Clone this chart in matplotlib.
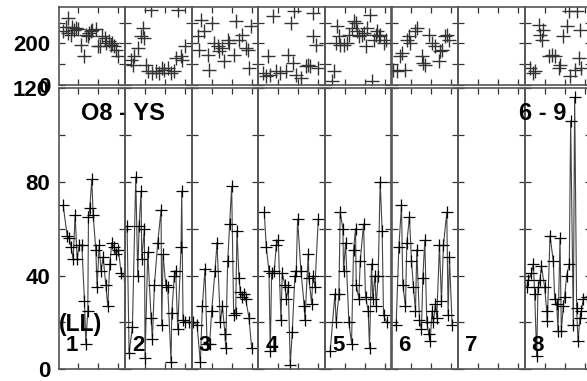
import matplotlib
matplotlib.use("Agg")
import matplotlib.pyplot as plt

plt.rcParams['font.family'] = ['Liberation Sans', 'DejaVu Sans']
plt.rcParams['font.weight'] = 'bold'

# panel labels
panel_labels = ['1', '2', '3', '4', '5', '6', '7', '8', '']

# lower series (line + markers), one list per panel
bottom_x = [
    [7, 13, 16, 19, 22, 25, 28, 31, 35, 39, 41, 44, 45, 47, 50, 52, 56, 58, 61, 64, 67, 71, 74, 77, 80, 84, 86, 90, 94, 98],
    [3, 6, 11, 16, 19, 21, 24, 25, 29, 30, 34, 39, 41, 44, 49, 54, 55, 57, 61, 64, 69, 70, 74, 76, 79, 84, 85, 87, 90, 96],
    [2, 8, 13, 16, 20, 23, 27, 30, 35, 38, 43, 46, 50, 51, 54, 57, 60, 63, 66, 68, 71, 73, 76, 78, 81, 86, 90],
    [9, 12, 16, 18, 20, 24, 27, 30, 34, 36, 40, 42, 45, 48, 51, 55, 57, 59, 64, 69, 70, 75, 76, 80, 82, 85, 90],
    [8, 15, 17, 21, 23, 27, 28, 31, 36, 40, 43, 46, 47, 51, 53, 58, 61, 65, 67, 70, 72, 75, 77, 80, 83, 86, 88, 93],
    [7, 11, 15, 17, 21, 23, 27, 30, 33, 36, 38, 42, 45, 47, 50, 53, 56, 58, 61, 63, 66, 68, 72, 75, 78, 83, 85, 87, 91],
    [],
    [3, 5, 10, 13, 15, 18, 20, 23, 25, 30, 33, 34, 38, 43, 45, 48, 50, 53, 55, 58, 60, 63, 67, 69, 73, 75, 78, 80, 83, 85, 88, 93],
    [],
]
bottom_y = [
    [70, 57, 56, 52, 47, 66, 47, 53, 53, 29, 11, 25, 65, 69, 81, 66, 51, 35, 53, 42, 48, 36, 27, 45, 54, 52, 49, 51, 41, 40],
    [61, 7, 18, 82, 40, 61, 76, 47, 60, 5, 50, 22, 13, 36, 54, 68, 19, 49, 36, 35, 3, 24, 40, 42, 17, 52, 76, 21, 20, 20],
    [20, 19, 3, 27, 43, 11, 11, 25, 42, 54, 20, 27, 15, 9, 46, 62, 78, 23, 24, 59, 39, 33, 31, 32, 30, 22, 9],
    [67, 52, 42, 8, 41, 42, 53, 55, 21, 41, 36, 30, 35, 2, 16, 40, 42, 64, 42, 27, 21, 49, 39, 28, 40, 35, 64],
    [8, 32, 20, 32, 67, 60, 42, 54, 20, 11, 51, 60, 36, 30, 46, 62, 31, 25, 9, 45, 30, 40, 27, 40, 80, 59, 23, 20],
    [19, 52, 70, 36, 27, 54, 65, 46, 35, 25, 51, 21, 17, 39, 55, 20, 15, 12, 25, 20, 28, 22, 53, 29, 53, 67, 23, 48, 19],
    [],
    [35, 38, 41, 45, 32, 5.5, 35, 38, 44, 35, 25, 20.5, 57, 46, 30, 28, 16.5, 56, 16.5, 27, 31, 40, 45, 106, 19, 116, 26, 12, 22, 25, 30, 31],
    [],
]

# upper series (markers only), one list per panel
top_x = [
    [7, 11, 14, 15, 19, 21, 24, 27, 30, 34, 39, 41, 44, 46, 49, 51, 56, 59, 62, 66, 70, 71, 76, 79, 81, 84, 86, 89],
    [9, 12, 14, 19, 24, 27, 29, 31, 35, 39, 41, 46, 51, 55, 59, 64, 69, 74, 76, 79, 84, 86, 90],
    [9, 11, 14, 19, 24, 26, 31, 34, 39, 41, 46, 49, 54, 56, 64, 66, 71, 76, 81, 85, 86, 89],
    [7, 12, 14, 17, 22, 27, 32, 42, 44, 49, 52, 54, 57, 64, 72, 74, 77, 82, 82, 87, 90],
    [11, 13, 16, 18, 21, 23, 28, 33, 36, 41, 43, 46, 48, 51, 55, 58, 61, 63, 68, 71, 73, 76, 78, 81, 83, 88, 91],
    [3, 8, 13, 16, 21, 23, 26, 28, 36, 38, 46, 48, 51, 56, 61, 66, 71, 73, 76, 81, 83, 86],
    [],
    [8, 13, 16, 21, 23, 26, 28, 36, 41, 46, 51, 53, 58, 63, 66, 68, 76, 78, 81, 83, 85],
    [],
]
top_y = [
    [257, 277, 321, 249, 241, 277, 265, 273, 268, 193, 137, 241, 233, 252, 257, 262, 268, 185, 185, 233, 225, 204, 209, 193, 201, 185, 169, 137],
    [121, 97, 137, 177, 233, 273, 225, 97, 65, 361, 57, 65, 57, 81, 73, 81, 57, 65, 129, 361, 137, 121, 185],
    [233, 169, 313, 257, 145, 73, 297, 201, 185, 161, 177, 113, 217, 201, 145, 305, 217, 241, 177, 169, 81, 281],
    [57, 41, 137, 49, 329, 65, 57, 65, 145, 297, 105, 353, 49, 33, 89, 97, 89, 345, 233, 193, 84],
    [17, 65, 201, 281, 233, 193, 193, 201, 241, 273, 305, 297, 257, 233, 241, 249, 185, 273, 337, 17, 217, 241, 257, 233, 241, 201, 217],
    [73, 65, 137, 153, 73, 217, 233, 201, 257, 273, 137, 105, 97, 241, 201, 185, 113, 161, 169, 233, 241, 217],
    [],
    [81, 57, 65, 290, 241, 217, 265, 137, 145, 137, 81, 97, 233, 281, 353, 41, 73, 353, 129, 265, 81],
    [],
]

W, H = 587, 381
fig = plt.figure(figsize=(W / 100, H / 100), dpi=100)

x0 = 58.5
pw = 66.6
spine_col = '#555555'


def style(ax, first):
    for s in ax.spines.values():
        s.set_color(spine_col)
        s.set_linewidth(1.2)
    ax.set_facecolor('none')
    ax.tick_params(direction='in', length=4, width=0.9, color='#333333',
                   top=True, right=True, labelsize=16, pad=6,
                   labelleft=first, labelbottom=False)
    ax.set_xlim(0, 100)
    ax.set_xticks([30, 60, 90])


for i in range(9):
    left = (x0 + i * pw) / W
    # lower panels
    ax = fig.add_axes([left, (H - 369.3) / H, pw / W, 281.3 / H])
    style(ax, i == 0)
    ax.set_ylim(0, 120)
    ax.set_yticks([0, 20, 40, 60, 80, 100, 120])
    ax.set_yticklabels(['0', '', '40', '', '80', '', '120'], fontweight='bold')
    if bottom_x[i]:
        ax.plot(bottom_x[i], bottom_y[i], color='#444444', lw=0.8,
                marker='+', ms=8.5, mew=0.9, mec='black')
    if panel_labels[i]:
        ax.text(10.5, 10, panel_labels[i], fontsize=16, fontweight='bold',
                va='center', ha='left')
    if i == 0:
        ax.text(34, 109, 'O8 - YS', fontsize=17, fontweight='bold', va='center')
        ax.text(0.5, 19.3, '(LL)', fontsize=16.5, fontweight='bold', va='center')
    if i == 7:
        ax.text(-8, 109, '6 - 9', fontsize=17, fontweight='bold', va='center',
                clip_on=False)

    # upper panels
    ax2 = fig.add_axes([left, (H - 85) / H, pw / W, 78.3 / H])
    style(ax2, i == 0)
    ax2.set_ylim(0, 376)
    ax2.set_yticks([0, 100, 200, 300])
    ax2.set_yticklabels(['0', '', '200', ''], fontweight='bold')
    if top_x[i]:
        ax2.plot(top_x[i], top_y[i], ls='none', marker='+', ms=9.5, mew=1.0,
                 color='#333333')

fig.savefig('out.png', dpi=100)
